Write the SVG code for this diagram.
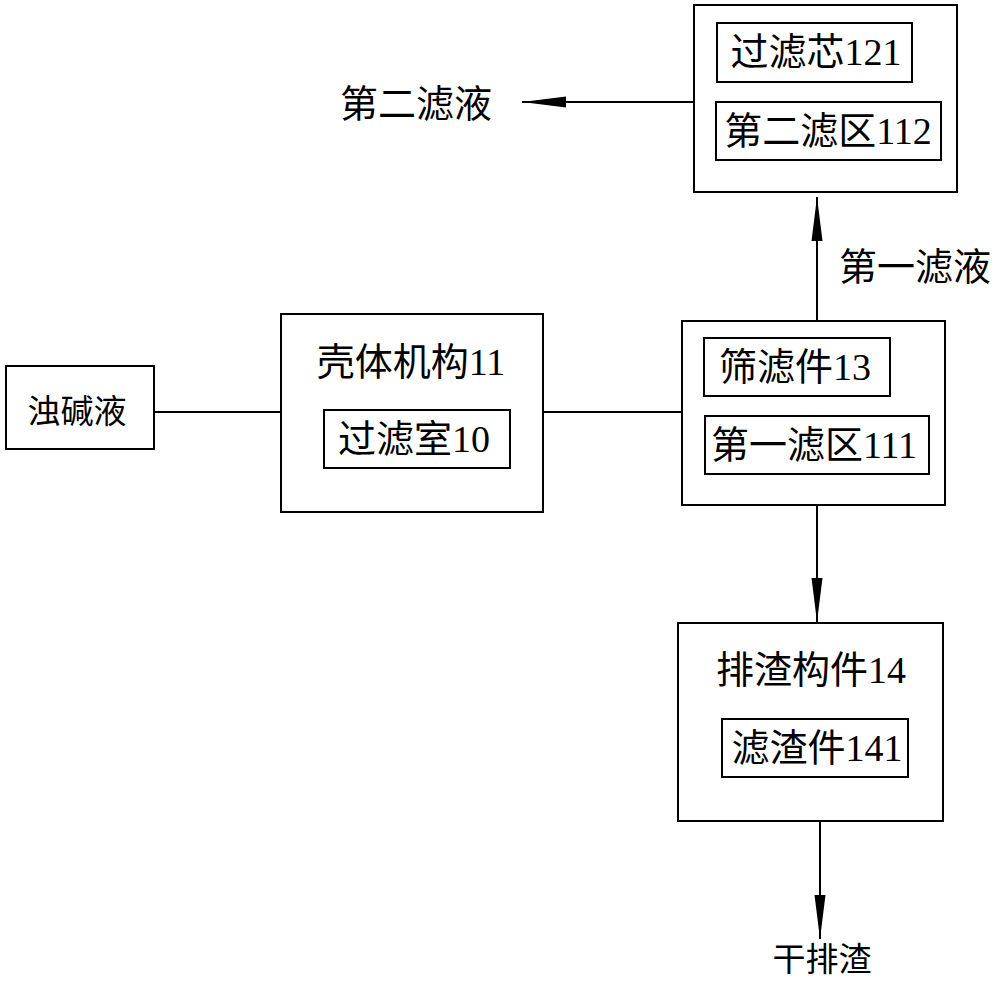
<svg xmlns="http://www.w3.org/2000/svg" width="1000" height="985" viewBox="0 0 1000 985">
<style>
.box{fill:#fff;stroke:#000;stroke-width:2}
.ln{fill:none;stroke:#000;stroke-width:2}
text{font-family:"Liberation Serif","Noto Sans CJK SC",serif;fill:#000;dominant-baseline:central}
.t38{font-size:38px}
.t33{font-size:33px}
</style>
<defs>
<marker id="ah" markerUnits="userSpaceOnUse" markerWidth="46" markerHeight="14" refX="44" refY="6" orient="auto">
<polygon points="0,0.5 44,6 0,11.5" fill="#000"/>
</marker>
</defs>
<rect width="1000" height="985" fill="#fff"/>
<g id="connectors">
<line class="ln" x1="143" y1="412" x2="281" y2="412"/>
<line class="ln" x1="543" y1="412" x2="682" y2="412"/>
<line class="ln" x1="694" y1="102" x2="522" y2="102" marker-end="url(#ah)"/>
<line class="ln" x1="817" y1="321" x2="817" y2="197" marker-end="url(#ah)"/>
<line class="ln" x1="817" y1="505" x2="817" y2="622" marker-end="url(#ah)"/>
<line class="ln" x1="820" y1="821" x2="820" y2="939" marker-end="url(#ah)"/>
</g>
<g id="node-zhuojianye">
<rect class="box" x="6" y="366" width="148" height="83"/>
<text class="t33" x="77" y="412" text-anchor="middle">浊碱液</text>
</g>
<g id="node-keti">
<rect class="box" x="281" y="314" width="262" height="198"/>
<text class="t38" x="411" y="362" text-anchor="middle">壳体机构11</text>
<g id="node-guolvshi">
<rect class="box" x="324" y="410" width="186" height="58"/>
<text class="t38" x="414" y="439" text-anchor="middle">过滤室10</text>
</g>
</g>
<g id="node-top">
<rect class="box" x="694" y="5" width="263" height="187"/>
<g id="node-guolvxin">
<rect class="box" x="717" y="23" width="195" height="59"/>
<text class="t38" x="816" y="52" text-anchor="middle">过滤芯121</text>
</g>
<g id="node-dierlvqu">
<rect class="box" x="716" y="102" width="225" height="58"/>
<text class="t38" x="828" y="131" text-anchor="middle">第二滤区112</text>
</g>
</g>
<g id="node-mid">
<rect class="box" x="682" y="321" width="263" height="184"/>
<g id="node-shailvjian">
<rect class="box" x="704" y="338" width="186" height="58"/>
<text class="t38" x="795" y="367" text-anchor="middle">筛滤件13</text>
</g>
<g id="node-diyilvqu">
<rect class="box" x="705" y="416" width="224" height="58"/>
<text class="t38" x="814" y="445" text-anchor="middle">第一滤区111</text>
</g>
</g>
<g id="node-paizha">
<rect class="box" x="678" y="623" width="265" height="198"/>
<text class="t38" x="811" y="670" text-anchor="middle">排渣构件14</text>
<g id="node-lvzhajian">
<rect class="box" x="722" y="719" width="186" height="58"/>
<text class="t38" x="817" y="748" text-anchor="middle">滤渣件141</text>
</g>
</g>
<g id="labels">
<text class="t38" x="416" y="104" text-anchor="middle">第二滤液</text>
<text class="t38" x="915" y="267" text-anchor="middle">第一滤液</text>
<text class="t33" x="822" y="960" text-anchor="middle">干排渣</text>
</g>
</svg>
